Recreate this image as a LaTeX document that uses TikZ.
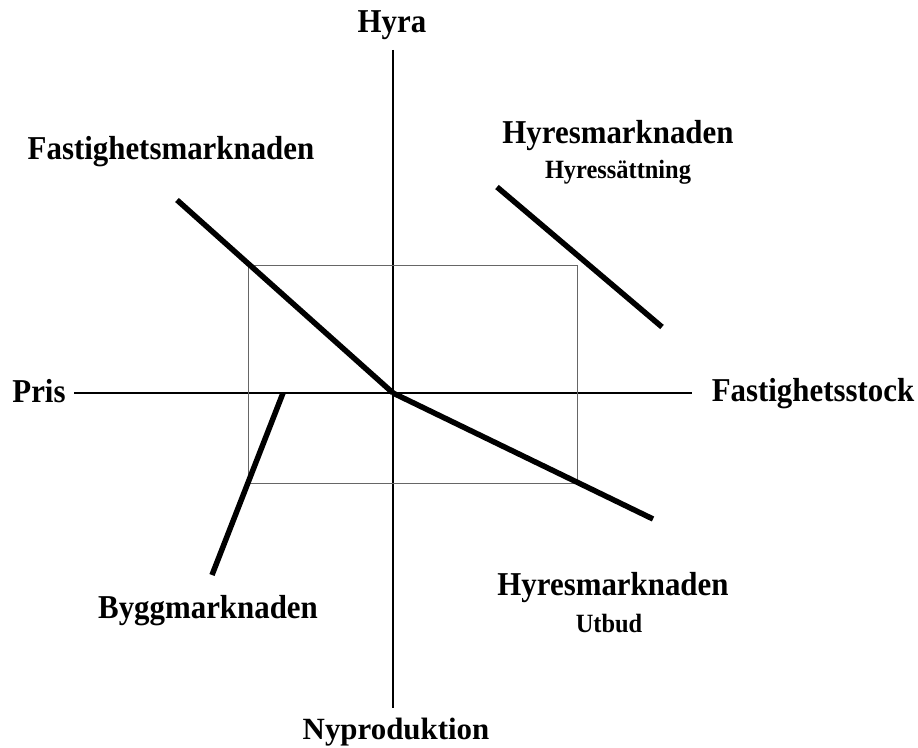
\documentclass[tikz,border=0pt]{standalone}
\usepackage{fontspec}
\setmainfont{Liberation Serif}
\newcommand\tallbox[1]{\scalebox{1}[1.08]{#1}}
\begin{document}
\begin{tikzpicture}[x=1bp,y=-1bp,
  big/.style={font=\bfseries\fontsize{31}{36}\selectfont, inner sep=0pt, anchor=base},
  small/.style={font=\bfseries\fontsize{24.5}{29}\selectfont, inner sep=0pt, anchor=base},
  axis/.style={line width=2.2bp},
  curve/.style={line width=5.5bp},
  box/.style={line width=1bp, draw=black!60}]
\useasboundingbox (0,0) rectangle (918,748);
% axes
\coordinate (vt) at (393,50);
\coordinate (vb) at (393,708);
\coordinate (hl) at (74,393);
\coordinate (hr) at (692,393);
\coordinate (o) at (393,393);
\draw[axis] (vt) -- (vb);
\draw[axis] (hl) -- (hr);
% box
\coordinate (b1) at (248,265);
\coordinate (b2) at (577,483);
\draw[box] (b1) rectangle (b2);
% curves
\coordinate (f1) at (177,200);
\draw[curve] (f1) -- (o);
\coordinate (u1) at (653,519);
\draw[curve] (o) -- (u1);
\coordinate (g1) at (283,393);
\coordinate (g2) at (212,575);
\draw[curve] (g1) -- (g2);
\coordinate (s1) at (497,187);
\coordinate (s2) at (662,327);
\draw[curve] (s1) -- (s2);
% labels
\node[big] (hyra) at (392,33) {\tallbox{Hyra}};
\node[big] (nyp) at (396,739) {Nyproduktion};
\node[big] (pris) at (39,402) {\tallbox{Pris}};
\node[big] (fstock) at (813,401) {\tallbox{Fastighetsstock}};
\node[big] (fmark) at (171,159) {\tallbox{Fastighetsmarknaden}};
\node[big] (hm1) at (618,143) {\tallbox{Hyresmarknaden}};
\node[small] (hs) at (618,178) {\tallbox{Hyressättning}};
\node[big] (bygg) at (208,618) {\tallbox{Byggmarknaden}};
\node[big] (hm2) at (613,595) {\tallbox{Hyresmarknaden}};
\node[small] (ut) at (609,632) {\tallbox{Utbud}};
\end{tikzpicture}
\end{document}
